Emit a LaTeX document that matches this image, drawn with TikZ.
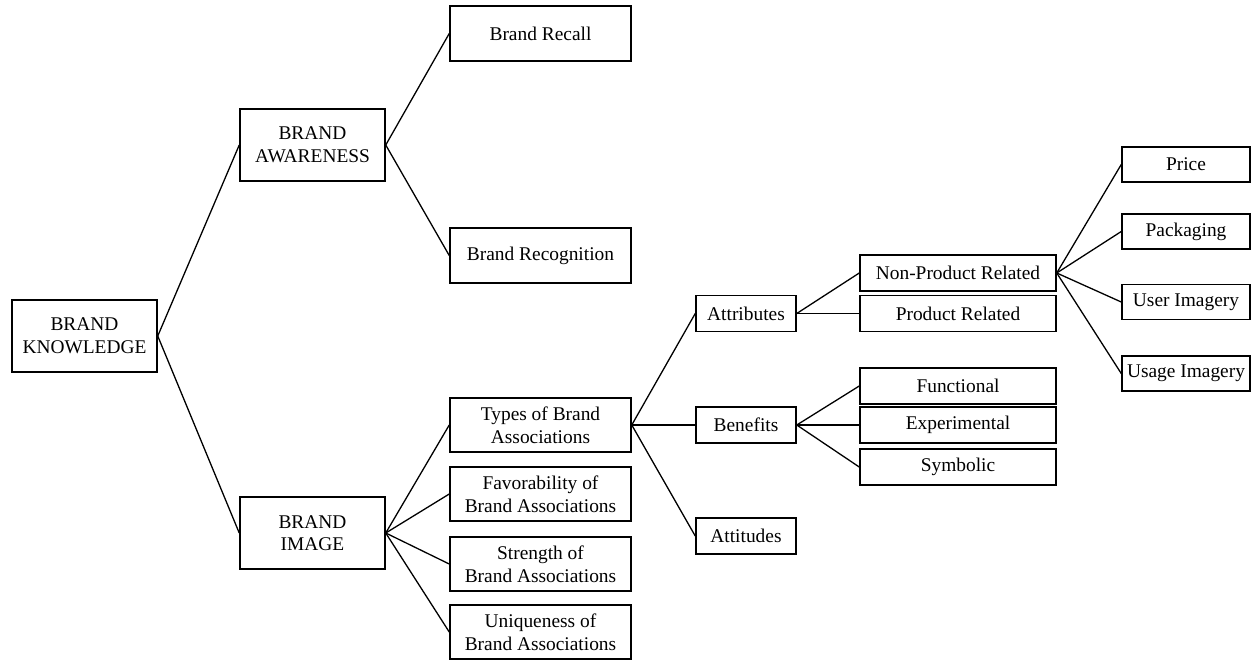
\documentclass[tikz,border=0pt]{standalone}
\usepackage{fontspec}
\setmainfont{Liberation Serif}
\begin{document}
\begin{tikzpicture}[x=1pt,y=-1pt,
  box/.style={draw=black,line width=1.5pt,rectangle,inner sep=0pt,align=center,
    font=\fontsize{19.4}{22.6}\selectfont},
  bigbox/.style={box,minimum width=145pt,minimum height=72pt},
  midbox/.style={box,minimum width=181pt,minimum height=54pt},
  smallbox/.style={box,minimum width=100pt,minimum height=36pt},
  widebox/.style={box,minimum width=196pt,minimum height=36pt},
  leafbox/.style={box,minimum width=128pt,minimum height=35pt},
  link/.style={draw=black,line width=1.3pt}]
\useasboundingbox (0,0) rectangle (1251,659);

% level 0 and 1
\node[bigbox] (know)  at (84.5,336) {BRAND\\KNOWLEDGE};
\node[bigbox] (aware) at (312.5,145) {BRAND\\AWARENESS};
\node[bigbox] (image) at (312.5,533) {BRAND\\IMAGE};

% level 2
\node[midbox,minimum height=55pt] (recall) at (540.5,33.5) {Brand Recall};
\node[midbox,minimum height=55pt] (recog)  at (540.5,255.5) {Brand Recognition};
\node[midbox] (types)    at (540.5,425) {Types of Brand\\Associations};
\node[midbox] (favor)    at (540.5,494) {Favorability of\\Brand Associations};
\node[midbox] (strength) at (540.5,564) {Strength of\\Brand Associations};
\node[midbox] (unique)   at (540.5,632) {Uniqueness of\\Brand Associations};

% level 3
\node[smallbox] (attr)  at (746,313.5) {Attributes};
\node[smallbox] (bene)  at (746,425)   {Benefits};
\node[smallbox] (attit) at (746,536)   {Attitudes};

% level 4
\node[widebox] (nonprod) at (958,273)   {Non-Product Related};
\node[widebox] (prod)    at (958,313.5) {Product Related};
\node[widebox] (func)    at (958,386)   {Functional};
\node[widebox] (exper)   at (958,425)   {Experimental};
\node[widebox] (symb)    at (958,467)   {Symbolic};

% level 5
\node[leafbox] (price) at (1186,164.5) {Price};
\node[leafbox] (pack)  at (1186,231.5) {Packaging};
\node[leafbox] (user)  at (1186,302)   {User Imagery};
\node[leafbox] (usage) at (1186,373.5) {Usage Imagery};

% connectors
\foreach \p/\c in {know/aware, know/image,
                   aware/recall, aware/recog,
                   image/types, image/favor, image/strength, image/unique,
                   types/attr, types/bene, types/attit,
                   attr/nonprod, attr/prod,
                   bene/func, bene/exper, bene/symb,
                   nonprod/price, nonprod/pack, nonprod/user, nonprod/usage}
  \draw[link] (\p.east) -- (\c.west);
\end{tikzpicture}
\end{document}
